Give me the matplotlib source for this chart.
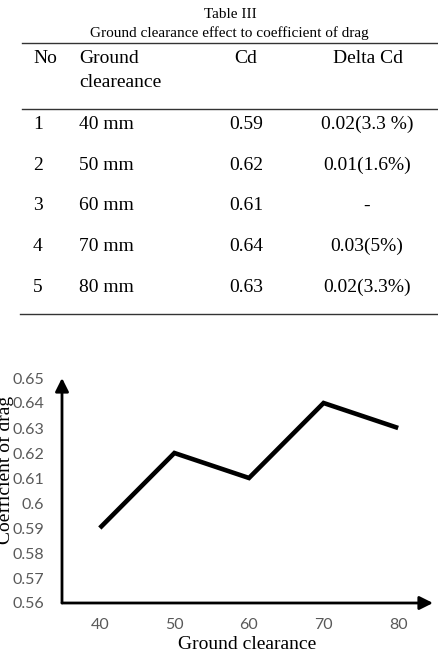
import numpy as np
import matplotlib.pyplot as plt
from matplotlib.lines import Line2D

clearance = [40, 50, 60, 70, 80]
cd = [0.59, 0.62, 0.61, 0.64, 0.63]
delta_cd = ['0.02(3.3 %)', '0.01(1.6%)', '-', '0.03(5%)', '0.02(3.3%)']
row_no = ['1', '2', '3', '4', '5']
y_ticks = [0.56, 0.57, 0.58, 0.59, 0.60, 0.61, 0.62, 0.63, 0.64, 0.65]

W, H = 438, 652
serif = 'Liberation Serif'


def fx(x):
    return x / W


def fy(y):
    return 1 - y / H


def rule(fig, x0, x1, y):
    fig.add_artist(Line2D([fx(x0), fx(x1)], [fy(y), fy(y)], color='#333333', lw=1.0))


fig = plt.figure(figsize=(W / 100, H / 100), dpi=100)

# --- table ---
fig.text(fx(230), fy(18), 'Table III', family=serif, fontsize=11, ha='center', va='baseline')
fig.text(fx(229), fy(37), 'Ground clearance effect to coefficient of drag', family=serif,
         fontsize=11, ha='center', va='baseline')
rule(fig, 22, 438, 43)
fig.text(fx(33), fy(63), 'No', family=serif, fontsize=14, va='baseline')
fig.text(fx(79), fy(63), 'Ground', family=serif, fontsize=14, va='baseline')
fig.text(fx(79), fy(87), 'cleareance', family=serif, fontsize=14, va='baseline')
fig.text(fx(246), fy(63), 'Cd', family=serif, fontsize=14, ha='center', va='baseline')
fig.text(fx(368), fy(63), 'Delta Cd', family=serif, fontsize=14, ha='center', va='baseline')
rule(fig, 22, 438, 109)
for i in range(len(clearance)):
    yb = 129 + i * 40.7
    fig.text(fx(33), fy(yb), row_no[i], family=serif, fontsize=14, va='baseline')
    fig.text(fx(79), fy(yb), f'{clearance[i]} mm', family=serif, fontsize=14, va='baseline')
    fig.text(fx(246), fy(yb), f'{cd[i]:.2f}', family=serif, fontsize=14, ha='center', va='baseline')
    fig.text(fx(367), fy(yb), delta_cd[i], family=serif, fontsize=14, ha='center', va='baseline')
rule(fig, 20, 438, 314)

# --- chart ---
ax = fig.add_axes([fx(62), fy(603), (433 - 62) / W, (603 - 378) / H])
ax.plot(clearance, cd, color='black', lw=3.3, solid_joinstyle='miter', solid_capstyle='butt')
ax.set_xlim(34.93, 84.67)
ax.set_ylim(0.56, 0.65)
ax.set_xticks(clearance)
ax.set_yticks(y_ticks)
ax.set_yticklabels([f'{v:g}' for v in y_ticks])
for s in ax.spines.values():
    s.set_visible(False)
ax.tick_params(length=0, labelsize=11.5, labelcolor='#595959')
ax.tick_params(axis='y', pad=13)
ax.tick_params(axis='x', pad=11)
for lab in ax.get_xticklabels() + ax.get_yticklabels():
    lab.set_family('Lato')

arrow = dict(arrowstyle='-|>', lw=2, color='black', mutation_scale=20, shrinkA=0, shrinkB=0)
ax.annotate('', xy=(1, 0), xytext=(0, 0), xycoords='axes fraction', arrowprops=arrow)
ax.annotate('', xy=(0, 1), xytext=(0, 0), xycoords='axes fraction', arrowprops=arrow)

fig.text(fx(247), fy(649), 'Ground clearance', family=serif, fontsize=14, ha='center', va='baseline')
# the reference crops this label at the left edge
fig.text(fx(14), fy(470), 'Coefficient of drag', family=serif, fontsize=14, ha='right', va='center',
         rotation=90)

fig.savefig('out.png', dpi=100)
